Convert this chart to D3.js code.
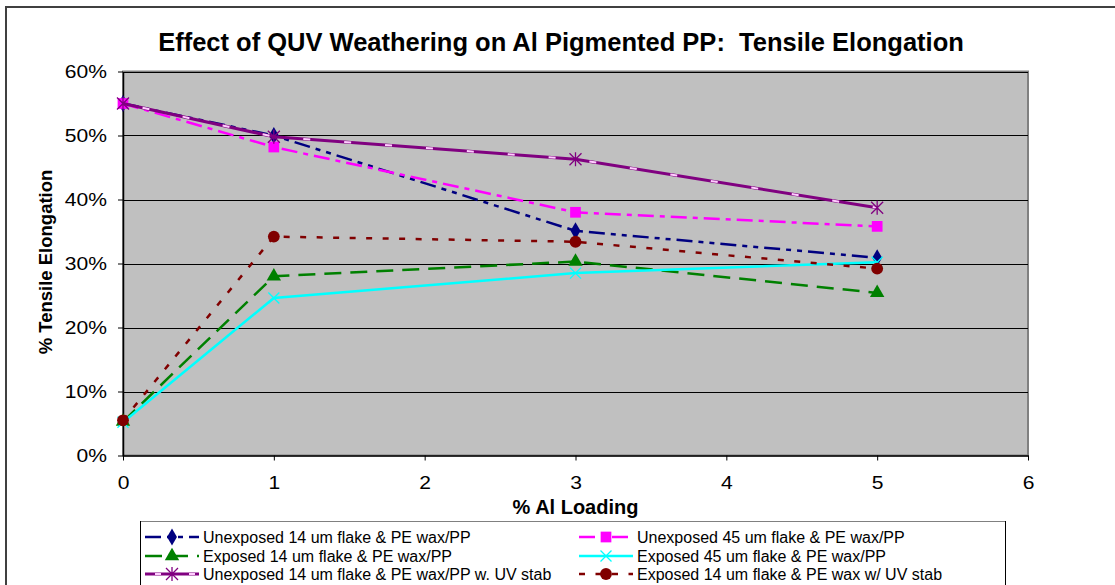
<!DOCTYPE html>
<html lang="en">
<head>
<meta charset="UTF-8">
<title>Effect of QUV Weathering on Al Pigmented PP</title>
<script src="https://d3js.org/d3.v7.min.js"></script>
<style>
    body { margin: 0; background: white; font-family: Arial, "Liberation Sans", sans-serif; }
    svg { display: block; }
</style>
</head>
<body>
<script>
    // Data (percent elongation vs % Al loading)
    const loadings = [0, 1, 3, 5];
    const unexp14 = [55, 50, 35.1, 30.9];
    const unexp45 = [55, 48.2, 38, 35.8];
    const exp14 = [5.3, 28, 30.3, 25.4];
    const exp45 = [5.2, 24.6, 28.5, 30.2];
    const unexp14uv = [55, 49.8, 46.3, 38.7];
    const exp14uv = [5.5, 34.2, 33.4, 29.2];

    const seriesNames = [
        "Unexposed 14 um flake & PE wax/PP",
        "Unexposed 45 um flake & PE wax/PP",
        "Exposed 14 um flake & PE wax/PP",
        "Exposed 45 um flake & PE wax/PP",
        "Unexposed 14 um flake & PE wax/PP w. UV stab",
        "Exposed 14 um flake & PE wax w/ UV stab"
    ];
    const yTicks = [0, 10, 20, 30, 40, 50, 60];
    const xTicks = [0, 1, 2, 3, 4, 5, 6];

    // Style per series (same order as names)
    const styles = [
        {values: unexp14, color: "#000080", dash: "16,6,5,6,5,6", marker: "diamond"},
        {values: unexp45, color: "#FF00FF", dash: "16,6,5,6", marker: "square"},
        {values: exp14, color: "#008000", dash: "17,9", marker: "triangle"},
        {values: exp45, color: "#00FFFF", dash: null, marker: "x"},
        {values: unexp14uv, color: "#800080", dash: null, overlay: "#FFCCFF", marker: "star"},
        {values: exp14uv, color: "#800000", dash: "6,10.5", marker: "circle"}
    ];

    const W = 1115, H = 585;
    const plot = {left: 123, right: 1028, top: 71.5, bottom: 455.5};
    const font = "Arial, 'Liberation Sans', sans-serif";

    const svg = d3.select("body").append("svg")
        .attr("width", W)
        .attr("height", H);

    // outer chart frame (runs past the right/bottom edges)
    svg.append("rect")
        .attr("x", 6).attr("y", 7)
        .attr("width", 1130).attr("height", 620)
        .attr("fill", "white")
        .attr("stroke", "#404040")
        .attr("stroke-width", 2);

    const x = d3.scaleLinear().domain([0, 6]).range([plot.left, plot.right]);
    const y = d3.scaleLinear().domain([0, 60]).range([plot.bottom, plot.top]);

    // plot area
    svg.append("rect")
        .attr("x", plot.left).attr("y", plot.top)
        .attr("width", plot.right - plot.left)
        .attr("height", plot.bottom - plot.top)
        .attr("fill", "#C0C0C0")
        .attr("stroke", "#808080")
        .attr("stroke-width", 2);

    // gridlines
    svg.append("g")
        .selectAll("line")
        .data(yTicks.filter(d => d > 0))
        .enter().append("line")
        .attr("x1", plot.left).attr("x2", plot.right)
        .attr("y1", d => Math.round(y(d)) + 0.5).attr("y2", d => Math.round(y(d)) + 0.5)
        .attr("stroke", "black")
        .attr("stroke-width", 1);

    // axes
    const yAxis = svg.append("g")
        .attr("transform", `translate(${plot.left},0)`)
        .call(d3.axisLeft(y).tickValues(yTicks).tickFormat(d => d + "%").tickSize(5).tickPadding(11).tickSizeOuter(0));
    const xAxis = svg.append("g")
        .attr("transform", `translate(0,${plot.bottom})`)
        .call(d3.axisBottom(x).tickValues(xTicks).tickFormat(d3.format("d")).tickSize(5).tickPadding(16).tickSizeOuter(0));
    [yAxis, xAxis].forEach(a => {
        a.attr("font-size", null).attr("font-family", null);
        a.select(".domain").attr("stroke", "black").attr("stroke-width", 1.5);
        a.selectAll(".tick line").attr("stroke", "black");
        a.selectAll(".tick text")
            .style("font-family", font)
            .style("font-size", "18px")
            .attr("fill", "black")
            .each(function() {
                // the original tick labels are a little wider than plain Arial
                const w = this.getComputedTextLength();
                d3.select(this).attr("textLength", w * 1.17).attr("lengthAdjust", "spacingAndGlyphs");
            });
    });

    // marker shapes
    function markerPath(type, s) {
        const h = s / 2;
        if (type === "x") return `M${-h},${-h}L${h},${h}M${-h},${h}L${h},${-h}`;
        if (type === "star") return `M${-h},${-h}L${h},${h}M${-h},${h}L${h},${-h}M0,${-h - 1}L0,${h + 1}`;
        const sym = {diamond: d3.symbolDiamond, square: d3.symbolSquare, triangle: d3.symbolTriangle, circle: d3.symbolCircle}[type];
        const area = {diamond: 85, square: 115, triangle: 90, circle: 110}[type];
        return d3.symbol().type(sym).size(area)();
    }
    function drawMarker(g, st, cx, cy) {
        const stroked = st.marker === "x" || st.marker === "star";
        g.append("path")
            .attr("transform", `translate(${cx},${cy})`)
            .attr("d", markerPath(st.marker, st.marker === "star" ? 12 : 11))
            .attr("fill", stroked ? "none" : st.color)
            .attr("stroke", stroked ? st.color : "none")
            .attr("stroke-width", 1.3);
    }

    const line = d3.line()
        .x(d => x(d[0]))
        .y(d => y(d[1]));

    const linesG = svg.append("g");
    styles.forEach(st => {
        const pts = loadings.map((l, i) => [l, st.values[i]]);
        const g = linesG.append("g");
        g.append("path")
            .datum(pts)
            .attr("d", line)
            .attr("fill", "none")
            .attr("stroke", st.color)
            .attr("stroke-width", st.overlay ? 3 : 2.5)
            .attr("stroke-dasharray", st.dash);
        if (st.overlay) {
            g.append("path")
                .datum(pts)
                .attr("d", line)
                .attr("fill", "none")
                .attr("stroke", st.overlay)
                .attr("stroke-width", 2)
                .attr("stroke-dasharray", "7,34")
                .attr("stroke-dashoffset", -20);
        }
        pts.forEach(p => drawMarker(g, st, x(p[0]), y(p[1])));
    });

    // titles
    svg.append("text")
        .attr("x", 561).attr("y", 51)
        .attr("text-anchor", "middle")
        .style("font-family", font)
        .style("font-size", "25.5px").style("font-weight", "bold")
        .text("Effect of QUV Weathering on Al Pigmented PP:\u00a0 Tensile Elongation");
    svg.append("text")
        .attr("x", (plot.left + plot.right) / 2).attr("y", 514)
        .attr("text-anchor", "middle")
        .style("font-family", font)
        .style("font-size", "20px").style("font-weight", "bold")
        .text("% Al Loading");
    svg.append("text")
        .attr("transform", `translate(52,262) rotate(-90)`)
        .attr("text-anchor", "middle")
        .style("font-family", font)
        .style("font-size", "18.5px").style("font-weight", "bold")
        .text("% Tensile Elongation");

    // legend
    const legend = svg.append("g");
    legend.append("rect")
        .attr("x", 140.5).attr("y", 521.5)
        .attr("width", 865).attr("height", 80)
        .attr("fill", "white")
        .attr("stroke", "black")
        .attr("stroke-width", 1);
    legend.append("line")
        .attr("x1", 141).attr("x2", 1005)
        .attr("y1", 521.5).attr("y2", 521.5)
        .attr("stroke", "#808080");

    const rowY = [537, 556, 574];
    const colX = [145, 579];
    styles.forEach((st, i) => {
        const lx = colX[i % 2], ly = rowY[Math.floor(i / 2)];
        const g = legend.append("g");
        g.append("line")
            .attr("x1", lx).attr("x2", lx + 54)
            .attr("y1", ly).attr("y2", ly)
            .attr("stroke", st.color)
            .attr("stroke-width", st.overlay ? 3 : 2.5)
            .attr("stroke-dasharray", st.dash);
        if (st.overlay) {
            g.append("line")
                .attr("x1", lx + 10).attr("x2", lx + 54)
                .attr("y1", ly).attr("y2", ly)
                .attr("stroke", st.overlay)
                .attr("stroke-width", 2)
                .attr("stroke-dasharray", "6,28");
        }
        drawMarker(g, st, lx + 27, ly);
        g.append("text")
            .attr("x", lx + 58).attr("y", ly + 6)
            .style("font-family", font)
            .style("font-size", "16px")
            .text(seriesNames[i]);
    });
</script>
</body>
</html>
